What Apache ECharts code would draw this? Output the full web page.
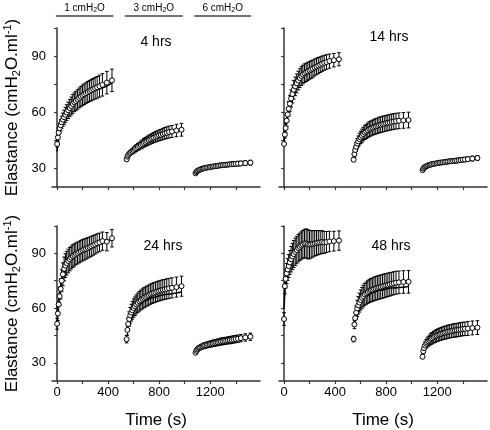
<!DOCTYPE html>
<html><head><meta charset="utf-8">
<script src="https://cdn.jsdelivr.net/npm/echarts@6/dist/echarts.min.js"></script>
<style>html,body{margin:0;padding:0;background:#fff}#c{width:490px;height:430px}</style>
</head><body><div id="c"></div>
<script>
// ---- sample times (s) ----
const seg1T = [0, 6, 12, 20, 28, 36, 45, 55, 65, 75, 87, 99, 111, 123, 135, 147, 160, 173, 186, 199, 212, 226, 240, 254, 268, 283, 298, 314, 332, 355, 390, 430];
const seg2T = [545, 551, 557, 565, 573, 581, 590, 600, 610, 620, 632, 644, 656, 668, 680, 692, 705, 718, 731, 744, 757, 771, 785, 799, 813, 828, 843, 859, 877, 900, 935, 975];
const seg3T = [1085, 1091, 1097, 1105, 1113, 1121, 1130, 1140, 1150, 1160, 1172, 1184, 1196, 1208, 1220, 1232, 1245, 1258, 1271, 1284, 1297, 1311, 1325, 1339, 1353, 1368, 1383, 1399, 1417, 1440, 1475, 1515];
const fit1T = [0, 10, 25, 50, 100, 150, 200, 300, 430];
const fit2T = [545, 555, 570, 595, 645, 695, 745, 845, 975];
const fit3T = [1085, 1095, 1110, 1135, 1185, 1235, 1285, 1385, 1515];

const panelLabels = ['4 hrs', '14 hrs', '24 hrs', '48 hrs'];
const pressureLabels = ['1 cmH{sub|2}O', '3 cmH{sub|2}O', '6 cmH{sub|2}O'];
const pressureRanges = [[-10, 440], [530, 985], [1075, 1520]];
const xTicks = [0, 200, 400, 600, 800, 1000, 1200, 1400];
const xTickLabels = [0, 400, 800, 1200];
const yTicks = [30, 45, 60, 75, 90, 105];
const yTickLabels = [30, 60, 90];

// ---- 4 hrs ----
const h4_m1 = [43, 46.5, 49, 51.4, 53, 54.6, 56, 57.3, 58.6, 59.8, 61, 62.2, 63.3, 64.4, 65.3, 66, 66.8, 67.6, 68.3, 69, 69.6, 70.2, 70.8, 71.3, 71.8, 72.3, 72.8, 73.3, 73.9, 74.6, 75.8, 77];
const h4_e1 = [1.5, 2, 2.3, 2.7, 3, 3.2, 3.5, 3.8, 4, 4.2, 4.4, 4.6, 4.8, 5, 5, 5.1, 5.2, 5.3, 5.4, 5.5, 5.5, 5.5, 5.6, 5.6, 5.7, 5.7, 5.8, 5.8, 5.9, 6, 6, 6];
const h4_f1 = [39, 46.5, 52, 56.5, 62, 65.5, 68.3, 72, 75.5];
const h4_m2 = [34.8, 36.2, 37, 37.7, 38.2, 38.7, 39.2, 39.7, 40.3, 40.8, 41.4, 41.9, 42.5, 43, 43.6, 44.1, 44.6, 45.1, 45.5, 46, 46.4, 46.8, 47.2, 47.6, 47.9, 48.3, 48.7, 49, 49.4, 49.7, 50.2, 50.6];
const h4_e2 = [0.8, 0.9, 1, 1.1, 1.2, 1.3, 1.5, 1.6, 1.7, 1.8, 1.9, 2, 2.1, 2.2, 2.3, 2.4, 2.5, 2.6, 2.6, 2.7, 2.7, 2.8, 2.8, 2.9, 2.9, 3, 3.1, 3.1, 3.2, 3.2, 3.3, 3.4];
const h4_f2 = [34, 36.7, 38.3, 40, 42.7, 44.7, 46.2, 48.5, 50.5];
const h4_m3 = [27.3, 28, 28.5, 28.8, 29.1, 29.3, 29.6, 29.8, 30, 30.2, 30.3, 30.5, 30.7, 30.8, 30.9, 31.1, 31.2, 31.3, 31.5, 31.6, 31.7, 31.8, 31.9, 32, 32.1, 32.2, 32.3, 32.4, 32.5, 32.6, 32.8, 33];
const h4_e3 = [0.4, 0.5, 0.5, 0.5, 0.6, 0.6, 0.7, 0.7, 0.7, 0.8, 0.8, 0.8, 0.9, 0.9, 0.9, 0.9, 1, 1, 1, 1, 1, 1.1, 1.1, 1.1, 1.1, 1.1, 1.2, 1.2, 1.2, 1.2, 1.3, 1.3];
const h4_f3 = [27, 28.3, 29.1, 29.9, 30.8, 31.4, 31.8, 32.4, 33];

// ---- 14 hrs ----
const h14_m1 = [43, 48, 51.5, 55.5, 58.8, 61.8, 64.5, 67.3, 69.7, 72, 73.8, 75.4, 76.9, 78.2, 79.3, 80.1, 80.8, 81.3, 81.8, 82.3, 82.8, 83.3, 83.9, 84.4, 84.9, 85.4, 85.9, 86.4, 86.8, 87.3, 87.8, 88.3];
const h14_e1 = [0.6, 1.8, 2.5, 3, 3.5, 3.9, 4.3, 4.6, 4.8, 5, 5, 5, 5, 5, 5, 5, 5, 4.9, 4.8, 4.7, 4.7, 4.6, 4.5, 4.4, 4.3, 4.2, 4.1, 4, 3.9, 3.8, 3.6, 3.5];
const h14_f1 = [42, 50.5, 58, 65.5, 74.5, 79.3, 82.2, 85.8, 88.2];
const h14_m2 = [34.6, 37.6, 39.8, 41.5, 43.2, 44.4, 45.6, 46.5, 47.4, 48.3, 49.1, 49.7, 50.3, 50.9, 51.3, 51.7, 52.1, 52.4, 52.7, 53.1, 53.3, 53.6, 53.8, 54.1, 54.3, 54.5, 54.8, 55, 55.2, 55.4, 55.6, 55.8];
const h14_e2 = [1, 1.6, 2, 2.4, 2.7, 2.9, 3.2, 3.3, 3.5, 3.6, 3.7, 3.8, 3.9, 4, 4, 4, 4.1, 4.1, 4.1, 4.2, 4.2, 4.2, 4.2, 4.2, 4.2, 4.2, 4.2, 4.2, 4.2, 4.2, 4.2, 4.2];
const h14_f2 = [36, 40.5, 44, 47.3, 50.3, 52, 53.2, 54.7, 55.8];
const h14_m3 = [29, 29.8, 30.3, 30.8, 31.1, 31.3, 31.6, 31.8, 32, 32.2, 32.4, 32.5, 32.7, 32.8, 33, 33.1, 33.2, 33.3, 33.5, 33.6, 33.7, 33.8, 33.9, 34, 34.1, 34.3, 34.4, 34.6, 34.7, 34.9, 35.2, 35.5];
const h14_e3 = [0.4, 0.5, 0.5, 0.6, 0.6, 0.7, 0.7, 0.8, 0.8, 0.8, 0.9, 0.9, 0.9, 1, 1, 1, 1, 1, 1.1, 1.1, 1.1, 1.1, 1.1, 1.1, 1.2, 1.2, 1.2, 1.2, 1.2, 1.2, 1.3, 1.3];
const h14_f3 = [29.2, 30.4, 31.1, 31.9, 32.7, 33.3, 33.7, 34.5, 35.4];

// ---- 24 hrs ----
const h24_m1 = [51.4, 57, 62, 66.5, 70.5, 75, 78.5, 81.5, 83.3, 84.6, 85.8, 86.8, 87.7, 88.5, 89.1, 89.7, 90.2, 90.7, 91.2, 91.7, 92.1, 92.5, 93, 93.4, 93.9, 94.4, 94.9, 95.5, 96, 96.7, 96.4, 98.3];
const h24_e1 = [3, 3.8, 4.5, 5, 5.5, 6, 6.3, 6.5, 6.5, 6.5, 6.5, 6.4, 6.3, 6.2, 6.1, 6, 6, 5.9, 5.9, 5.8, 5.8, 5.7, 5.6, 5.5, 5.5, 5.4, 5.3, 5.2, 5.1, 5, 5, 4.8];
const h24_f1 = [56.5, 64, 72, 79.5, 86.5, 89.5, 91.5, 94.5, 97.8];
const h24_m2 = [42.9, 48, 51.3, 54, 56, 57.5, 58.8, 60, 61, 62, 62.9, 63.7, 64.4, 65, 65.6, 66.1, 66.6, 67.1, 67.6, 68, 68.4, 68.7, 69.1, 69.4, 69.7, 70, 70.2, 70.5, 70.8, 71.1, 71.5, 72];
const h24_e2 = [2, 2.8, 3.4, 3.9, 4.3, 4.6, 4.9, 5, 5.1, 5.2, 5.3, 5.4, 5.4, 5.5, 5.5, 5.5, 5.5, 5.5, 5.5, 5.5, 5.5, 5.5, 5.5, 5.5, 5.5, 5.5, 5.5, 5.5, 5.5, 5.5, 5.5, 5.5];
const h24_f2 = [48, 51.5, 54.8, 58.3, 62, 64.2, 65.7, 67.5, 68.8];
const h24_m3 = [35.5, 36.5, 37.2, 37.7, 38.1, 38.4, 38.7, 39, 39.3, 39.5, 39.7, 40, 40.2, 40.4, 40.6, 40.8, 41, 41.2, 41.4, 41.6, 41.8, 41.9, 42.1, 42.3, 42.4, 42.6, 42.8, 43, 43.2, 43.5, 43.9, 44.3];
const h24_e3 = [0.8, 1, 1.1, 1.2, 1.2, 1.3, 1.4, 1.4, 1.5, 1.5, 1.6, 1.6, 1.6, 1.7, 1.7, 1.8, 1.8, 1.8, 1.8, 1.9, 1.9, 1.9, 1.9, 1.9, 2, 2, 2, 2, 2, 2, 2, 2];
const h24_f3 = [35.5, 37, 38, 39, 40.3, 41, 41.6, 42.7, 43.8];

// ---- 48 hrs ----
const h48_m1 = [54, 72, 76, 79, 81.2, 83, 85, 86.8, 88.3, 89.6, 90.8, 91.8, 92.8, 93.6, 94.3, 94.9, 95.4, 95.4, 95, 94.8, 95, 95.2, 95.5, 95.7, 95.9, 96, 96.2, 96, 96.2, 96.5, 96.7, 97];
const h48_e1 = [3.5, 4.2, 5, 5.5, 6, 6.3, 6.6, 7, 7.2, 7.4, 7.5, 7.5, 7.5, 7.5, 7.5, 7.6, 7.8, 8, 8, 7.8, 7.5, 7.2, 7, 6.8, 6.6, 6.4, 6.2, 6, 5.8, 5.6, 5.4, 5.3];
const h48_f1 = [59.5, 72, 80, 87, 92.5, 94.5, 95.5, 96.3, 96.8];
const h48_m2 = [43, 51, 54.5, 57.5, 59.8, 61.5, 63, 64.4, 65.6, 66.6, 67.5, 68.2, 68.8, 69.3, 69.8, 70.1, 70.5, 70.8, 71.1, 71.4, 71.6, 71.9, 72.2, 72.5, 72.7, 73, 73.3, 73.6, 73.9, 74.1, 74.3, 74.4];
const h48_e2 = [1.5, 2.3, 3, 3.8, 4.4, 4.8, 5.2, 5.5, 5.7, 5.9, 6, 6.1, 6.2, 6.3, 6.4, 6.4, 6.5, 6.5, 6.5, 6.5, 6.5, 6.5, 6.5, 6.5, 6.4, 6.4, 6.3, 6.3, 6.3, 6.2, 6.2, 6.2];
const h48_f2 = [50, 54.5, 58.5, 62.5, 66.5, 68.5, 69.7, 71, 71.8];
const h48_m3 = [33.3, 36.3, 38, 39.4, 40.4, 41.1, 41.8, 42.4, 43, 43.5, 44, 44.5, 44.9, 45.3, 45.6, 45.9, 46.2, 46.5, 46.7, 47, 47.2, 47.4, 47.6, 47.8, 47.9, 48.1, 48.3, 48.5, 48.6, 48.8, 49.1, 49.3];
const h48_e3 = [1, 1.4, 1.8, 2.1, 2.3, 2.5, 2.7, 2.8, 3, 3.1, 3.2, 3.3, 3.3, 3.4, 3.4, 3.5, 3.5, 3.5, 3.6, 3.6, 3.6, 3.6, 3.7, 3.7, 3.7, 3.7, 3.7, 3.7, 3.7, 3.8, 3.8, 3.8];
const h48_f3 = [36, 38.5, 40.5, 42.3, 44.5, 45.7, 46.6, 47.8, 48.8];

const panels = [
  {m: [h4_m1, h4_m2, h4_m3], e: [h4_e1, h4_e2, h4_e3], f: [h4_f1, h4_f2, h4_f3]},
  {m: [h14_m1, h14_m2, h14_m3], e: [h14_e1, h14_e2, h14_e3], f: [h14_f1, h14_f2, h14_f3]},
  {m: [h24_m1, h24_m2, h24_m3], e: [h24_e1, h24_e2, h24_e3], f: [h24_f1, h24_f2, h24_f3]},
  {m: [h48_m1, h48_m2, h48_m3], e: [h48_e1, h48_e2, h48_e3], f: [h48_f1, h48_f2, h48_f3]}
];
const segT = [seg1T, seg2T, seg3T];
const fitT = [fit1T, fit2T, fit3T];

const FONT = 'Liberation Sans, Arial, sans-serif';
const AX = '#333';
const gridPos = [
  {left: 52, top: 28, width: 208, height: 159},
  {left: 279, top: 28, width: 208, height: 159},
  {left: 52, top: 226, width: 208, height: 159},
  {left: 279, top: 226, width: 208, height: 159}
];
const labelPos = [[156, 42], [389, 37], [163, 246], [391, 246]];

const grids = [], xAxes = [], yAxes = [], series = [], graphics = [];
gridPos.forEach((g, i) => {
  grids.push(Object.assign({containLabel: false}, g));
  xAxes.push({
    type: 'value', gridIndex: i, min: -40, max: 1590,
    splitLine: {show: false},
    axisLine: {lineStyle: {color: AX, width: 1.5}},
    axisTick: {customValues: xTicks, length: 3, lineStyle: {color: AX, width: 1.2}},
    axisLabel: {show: i >= 2, customValues: xTickLabels, formatter: v => String(v), fontSize: 13, color: '#000', margin: 5, fontFamily: FONT},
    name: i >= 2 ? 'Time (s)' : '', nameLocation: 'middle', nameGap: 31,
    nameTextStyle: {fontSize: 17, color: '#000', fontFamily: FONT}
  });
  const left = (i % 2 === 0);
  yAxes.push({
    type: 'value', gridIndex: i, min: 20, max: 105,
    splitLine: {show: false},
    axisLine: {show: true, lineStyle: {color: AX, width: 1.5}},
    axisTick: {show: true, customValues: yTicks, length: 3, lineStyle: {color: AX, width: 1.2}},
    axisLabel: {show: left, customValues: yTickLabels, formatter: v => String(v), fontSize: 13, color: '#000', margin: 6, fontFamily: FONT},
    name: left ? 'Elastance (cmH{sub|2}O.ml{sup|-1})' : '', nameLocation: 'middle', nameGap: 30,
    nameTextStyle: {fontSize: 17, color: '#000', fontFamily: FONT, lineHeight: 20,
      rich: {sub: {fontSize: 11, lineHeight: 11, verticalAlign: 'bottom', fontFamily: FONT, color: '#000'},
             sup: {fontSize: 11, lineHeight: 11, verticalAlign: 'top', fontFamily: FONT, color: '#000'}}}
  });
  const p = panels[i];
  const errData = [], ptData = [];
  for (let s = 0; s < 3; s++) {
    segT[s].forEach((t, k) => {
      errData.push([t, p.m[s][k], p.e[s][k]]);
      ptData.push([t, p.m[s][k]]);
    });
  }
  series.push({
    type: 'custom', xAxisIndex: i, yAxisIndex: i, z: 2, silent: true,
    encode: {x: 0, y: 1},
    data: errData,
    renderItem: function (params, api) {
      const x = api.value(0), m = api.value(1), e = api.value(2);
      const a = api.coord([x, m + e]), b = api.coord([x, m - e]);
      const w = 1.8, st = {stroke: '#000', lineWidth: 1};
      return {type: 'group', children: [
        {type: 'line', shape: {x1: a[0], y1: a[1], x2: b[0], y2: b[1]}, style: st},
        {type: 'line', shape: {x1: a[0] - w, y1: a[1], x2: a[0] + w, y2: a[1]}, style: st},
        {type: 'line', shape: {x1: b[0] - w, y1: b[1], x2: b[0] + w, y2: b[1]}, style: st}
      ]};
    }
  });
  for (let s = 0; s < 3; s++) {
    series.push({
      type: 'line', xAxisIndex: i, yAxisIndex: i, z: 3, silent: true,
      smooth: 0.35, smoothMonotone: 'x', showSymbol: false, symbol: 'none',
      lineStyle: {color: '#000', width: 1.5},
      data: fitT[s].map((t, k) => [t, p.f[s][k]])
    });
  }
  series.push({
    type: 'scatter', xAxisIndex: i, yAxisIndex: i, z: 4, silent: true,
    symbol: 'circle', symbolSize: 5,
    itemStyle: {color: '#fff', borderColor: '#000', borderWidth: 1, opacity: 1},
    data: ptData
  });
  graphics.push({type: 'text', x: labelPos[i][0], y: labelPos[i][1],
    style: {text: panelLabels[i], font: '14px ' + FONT, fill: '#000', align: 'center', verticalAlign: 'middle'}});
});

// pressure annotation bars above the top-left panel
series.push({
  type: 'custom', xAxisIndex: 0, yAxisIndex: 0, clip: false, silent: true, z: 5,
  data: pressureRanges.map((r, k) => [r[0], r[1], k]),
  encode: {x: [0, 1]},
  renderItem: function (params, api) {
    const a = api.coord([api.value(0), 105]), b = api.coord([api.value(1), 105]);
    const y = a[1] - 12;
    const k = api.value(2);
    return {type: 'group', children: [
      {type: 'line', shape: {x1: a[0], y1: y, x2: b[0], y2: y}, style: {stroke: '#444', lineWidth: 1.3}},
      {type: 'text', x: (a[0] + b[0]) / 2, y: y - 8, style: {
        text: pressureLabels[k], fill: '#000', align: 'center', verticalAlign: 'middle',
        fontSize: 10, fontFamily: FONT, lineHeight: 12,
        rich: {sub: {fontSize: 7, lineHeight: 7, verticalAlign: 'bottom', fontFamily: FONT, fill: '#000'}}
      }}
    ]};
  }
});

const chart = echarts.init(document.getElementById('c'), null, {renderer: 'canvas'});
chart.setOption({
  animation: false,
  backgroundColor: '#fff',
  grid: grids, xAxis: xAxes, yAxis: yAxes, series: series,
  graphic: graphics
});
</script></body></html>
